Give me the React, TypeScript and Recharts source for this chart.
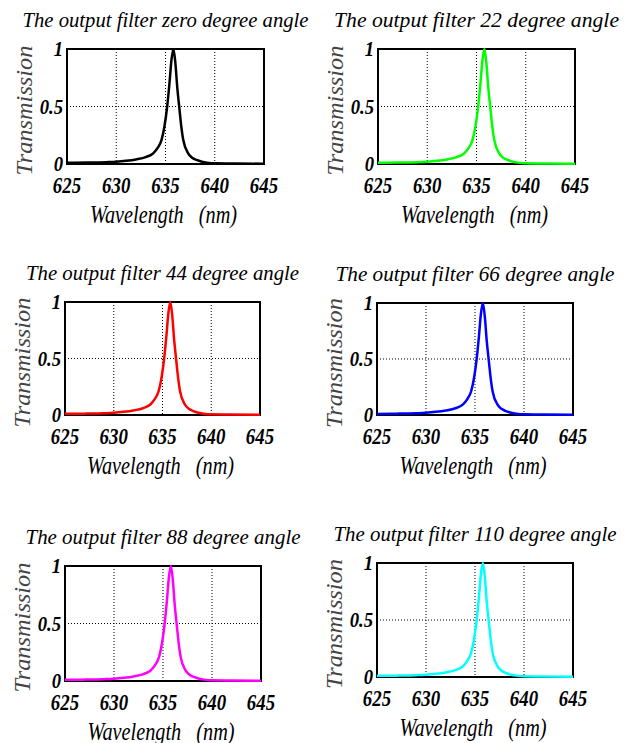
import { CartesianGrid, Label, Line, LineChart, ReferenceArea, XAxis, YAxis } from "recharts";

// every panel shows the same resonance near 635.8 nm
const WAVELENGTH = [
  625, 627, 629, 630, 631, 632, 633, 633.75, 634.2, 634.6, 634.9, 635.17, 635.4,
  635.6, 635.8, 636.0, 636.2, 636.39, 636.6, 636.8, 637.3, 637.7, 638.15, 638.7,
  639.2, 640, 642, 645,
];
const TRANSMISSION = [
  0.01, 0.012, 0.016, 0.02, 0.028, 0.04, 0.06, 0.093, 0.14, 0.21, 0.33, 0.5, 0.7,
  0.9, 1.0, 0.88, 0.66, 0.5, 0.33, 0.21, 0.093, 0.055, 0.035, 0.02, 0.012, 0.006,
  0.004, 0.003,
];
const ANGLES = ["zero", "22", "44", "66", "88", "110"];
const COLORS = ["#000000", "#00ff00", "#ff0000", "#0000ff", "#ff00ff", "#00ffff"];
const X_TICKS = [625, 630, 635, 640, 645];
const Y_TICKS = [0, 0.5, 1];

const DATA = WAVELENGTH.map((w, i) => ({ w, t: TRANSMISSION[i] }));

// plot box of each panel in page pixels, and title width
const BOXES = [
  { left: 67, top: 49, width: 197, height: 115, titleLen: 286 },
  { left: 378, top: 49, width: 197, height: 115, titleLen: 285 },
  { left: 65, top: 302, width: 195, height: 113, titleLen: 273 },
  { left: 377, top: 303, width: 196, height: 112, titleLen: 279 },
  { left: 65, top: 566, width: 196, height: 115, titleLen: 275 },
  { left: 377, top: 563, width: 196, height: 114, titleLen: 283 },
];

const FONT = "'Liberation Serif', 'Times New Roman', serif";
const PAD_L = 67;
const PAD_T = 49;
const PAD_R = 50;
const PAD_B = 80;

const italic = { fontFamily: FONT, fontStyle: "italic" as const };

function Panel({ idx }: { idx: number }) {
  const b = BOXES[idx];
  const w = b.width + PAD_L + PAD_R;
  const h = b.height + PAD_T + PAD_B;
  const bottom = PAD_T + b.height;
  const midX = PAD_L + b.width / 2;

  const xTick = (p: any) => (
    <text
      transform={`translate(${p.x},${bottom + 29}) scale(0.82,1)`}
      textAnchor="middle"
      style={{ ...italic, fontWeight: "bold", fontSize: 23 }}
      fill="#000"
    >
      {p.payload.value}
    </text>
  );

  const yTick = (p: any) => (
    <text
      transform={`translate(${PAD_L - 4},${p.y + 7}) scale(0.85,1)`}
      textAnchor="end"
      style={{ ...italic, fontWeight: "bold", fontSize: 22 }}
      fill="#000"
    >
      {p.payload.value}
    </text>
  );

  return (
    <div style={{ position: "absolute", left: b.left - PAD_L, top: b.top - PAD_T, width: w, height: h }}>
      <svg
        width={w}
        height={PAD_T}
        style={{ position: "absolute", left: 0, top: 0, overflow: "visible" }}
      >
        <text
          x={midX}
          y={PAD_T - 22}
          textAnchor="middle"
          textLength={b.titleLen}
          lengthAdjust="spacingAndGlyphs"
          style={{ ...italic, fontSize: 22 }}
          fill="#000"
        >
          {`The output filter ${ANGLES[idx]} degree angle`}
        </text>
      </svg>
      <LineChart width={w} height={h} data={DATA} margin={{ top: PAD_T, right: PAD_R, bottom: 0, left: 0 }}>
        <CartesianGrid stroke="#000" strokeDasharray="1 2" strokeWidth={1} />
        <XAxis
          dataKey="w"
          type="number"
          domain={[625, 645]}
          ticks={X_TICKS}
          interval={0}
          height={PAD_B}
          axisLine={false}
          tickLine={false}
          tickSize={0}
          tick={xTick}
        >
          <Label
            content={() => (
              <text
                x={midX - 2}
                y={bottom + 59}
                textAnchor="middle"
                textLength={147}
                lengthAdjust="spacingAndGlyphs"
                style={{ ...italic, fontSize: 25, whiteSpace: "pre" }}
                fill="#000"
              >
                {"Wavelength   (nm)"}
              </text>
            )}
          />
        </XAxis>
        <YAxis
          type="number"
          domain={[0, 1]}
          ticks={Y_TICKS}
          width={PAD_L}
          axisLine={false}
          tickLine={false}
          tickSize={0}
          tick={yTick}
        >
          <Label
            content={() => (
              <text
                transform={`translate(${PAD_L - 35},${PAD_T + b.height / 2 + 4}) rotate(-90)`}
                textAnchor="middle"
                textLength={130}
                lengthAdjust="spacingAndGlyphs"
                style={{ ...italic, fontSize: 24 }}
                fill="#444"
              >
                Transmission
              </text>
            )}
          />
        </YAxis>
        <ReferenceArea x1={625} x2={645} y1={0} y2={1} fill="none" stroke="#000" strokeWidth={2} />
        <Line
          type="monotone"
          dataKey="t"
          stroke={COLORS[idx]}
          strokeWidth={2.5}
          dot={false}
          isAnimationActive={false}
        />
      </LineChart>
    </div>
  );
}

export default function App() {
  return (
    <div
      style={{
        position: "absolute",
        left: 0,
        top: 0,
        width: 627,
        height: 743,
        overflow: "hidden",
        background: "#fff",
      }}
    >
      {BOXES.map((_, i) => (
        <Panel key={i} idx={i} />
      ))}
    </div>
  );
}
